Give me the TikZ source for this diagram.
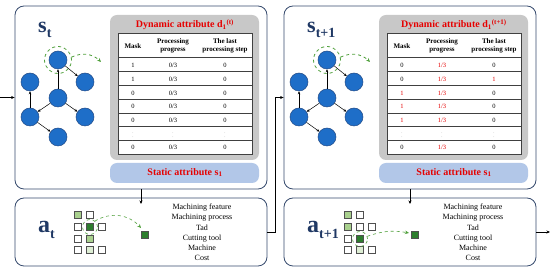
\documentclass[tikz,border=0pt]{standalone}
\usepackage{fontspec}
\setmainfont{Liberation Serif}
\usetikzlibrary{arrows.meta}
\definecolor{boxline}{RGB}{55,75,110}
\definecolor{nodeblue}{RGB}{30,110,200}
\definecolor{nodeedge}{RGB}{35,75,135}
\definecolor{navytext}{RGB}{31,56,100}
\definecolor{attrred}{RGB}{230,0,0}
\definecolor{graybg}{RGB}{200,200,200}
\definecolor{staticbg}{RGB}{178,199,232}
\definecolor{greendash}{RGB}{80,160,60}
\definecolor{darkgreen}{RGB}{45,125,45}
\definecolor{lightgreen}{RGB}{169,209,142}
\definecolor{palegreen}{RGB}{222,238,212}
\definecolor{sqedge}{RGB}{80,80,80}
\tikzset{
  frame/.style={draw=boxline, line width=0.8pt, rounded corners=9pt, fill=white, inner sep=0},
  gbox/.style={fill=graybg, rounded corners=7pt, inner sep=0},
  sbox/.style={fill=staticbg, rounded corners=7pt, inner sep=0},
  gnode/.style={circle, fill=nodeblue, draw=nodeedge, line width=0.5pt, minimum size=18pt, inner sep=0},
  gedge/.style={-{Stealth[length=3pt,width=2.6pt]}, line width=0.5pt},
  conn/.style={-{Stealth[length=3.5pt,width=3pt]}, line width=0.6pt},
  ring/.style={circle, draw=greendash, dashed, line width=0.8pt, inner sep=0},
  garrow/.style={-{Stealth[length=4pt,width=3.5pt]}, draw=greendash, dashed, line width=0.8pt},
  sq/.style={draw=sqedge, line width=0.6pt, minimum size=7pt, inner sep=0, fill=white},
  tline/.style={line width=0.6pt, draw=black!75},
  hd/.style={font=\fontsize{7}{7.8}\selectfont\bfseries, align=center, inner sep=0},
  cell/.style={font=\fontsize{6.5}{7}\selectfont, inner sep=0},
  ttl/.style={font=\fontsize{10}{12}\selectfont\bfseries, text=attrred, inner sep=0},
  biglab/.style={text=navytext, inner sep=0, anchor=base west},
  lst/.style={font=\fontsize{8}{10.2}\selectfont, align=center, inner sep=0},
}
\newcommand{\mygraph}[1]{%
  \node[gnode] (#1top) at (58,60) {};
  \node[gnode] (#1l) at (30,82) {};
  \node[gnode] (#1r) at (85,82) {};
  \node[gnode] (#1c) at (58,98) {};
  \node[gnode] (#1ll) at (30,117) {};
  \node[gnode] (#1lr) at (85,117) {};
  \node[gnode] (#1b) at (58,137) {};
  \draw[gedge] (#1c) -- (#1top);
  \draw[gedge] (#1top) -- (#1r);
  \draw[gedge] (#1c) -- (#1ll);
  \draw[gedge] (#1c) -- (#1lr);
  \draw[gedge] (#1ll) -- (#1l);
  \draw[gedge] (#1ll) -- (#1b);
  \node[ring, minimum size=27pt] (#1ring) at (#1top) {};
  \coordinate (#1tip) at (101,62);
  \draw[garrow] (#1ring.12) to[bend left=35] (#1tip);
}
\newcommand{\mytableframe}{%
  \draw[tline, fill=white] (118,33) rectangle (252,154);
  \draw[tline, line width=1pt] (118,58) -- (252,58);
  \foreach \k in {1,...,6} {\draw[tline] (118,58+\k*13.714) -- (252,58+\k*13.714);}
  \node[hd] at (133,46) {Mask};
  \node[hd] at (173,46) {Processing\\progress};
  \node[hd] at (225,46) {The last\\processing step};
}
\newcommand{\trow}[4]{%
  \node[cell] at (133,#1) {#2};
  \node[cell] at (173,#1) {#3};
  \node[cell] at (225,#1) {#4};
}
\newcommand{\dotsrow}{\textcolor{black!45}{\fontsize{4.5}{4.5}\selectfont$\vdots$}}
\newcommand{\R}[1]{\textcolor{attrred}{#1}}
\begin{document}
\begin{tikzpicture}[x=1pt, y=-1pt]
\useasboundingbox (0,0) rectangle (550,272);
% ---------------- left state ----------------
\node[frame, minimum width=252pt, minimum height=183pt] (S1) at (141,97.5) {};
\node[gbox, minimum width=149pt, minimum height=145pt] (G1) at (184.5,87.5) {};
\node[sbox, minimum width=149pt, minimum height=20pt] (T1) at (184.5,173) {};
\node[ttl] at (185,172.5) {Static attribute s\textsubscript{1}};
\node[ttl] (D1) at (185,24.5) {Dynamic attribute d\textsubscript{1}\textsuperscript{(t)}};
\mytableframe
\trow{65.5}{1}{0/3}{0}
\trow{79.2}{1}{0/3}{0}
\trow{92.9}{0}{0/3}{0}
\trow{106.6}{0}{0/3}{0}
\trow{120.3}{0}{0/3}{0}
\trow{134.0}{\dotsrow}{\dotsrow}{\dotsrow}
\trow{147.7}{0}{0/3}{0}
\mygraph{a}
\node[biglab] at (38,33) {\fontsize{22}{22}\selectfont\bfseries s\raisebox{-5pt}{\fontsize{14}{14}\selectfont t}};
% ---------------- right state ----------------
\begin{scope}[shift={(269,0)}]
\node[frame, minimum width=252pt, minimum height=183pt] (S2) at (141,97.5) {};
\node[gbox, minimum width=149pt, minimum height=145pt] (G2) at (184.5,87.5) {};
\node[sbox, minimum width=149pt, minimum height=20pt] (T2) at (184.5,173) {};
\node[ttl] at (185,172.5) {Static attribute s\textsubscript{1}};
\node[ttl] (D2) at (185,24.5) {Dynamic attribute d\textsubscript{1}\textsuperscript{(t+1)}};
\mytableframe
\trow{65.5}{0}{\R{1/3}}{0}
\trow{79.2}{0}{\R{1/3}}{\R{1}}
\trow{92.9}{\R{1}}{\R{1/3}}{0}
\trow{106.6}{\R{1}}{\R{1/3}}{0}
\trow{120.3}{\R{1}}{\R{1/3}}{0}
\trow{134.0}{\dotsrow}{\dotsrow}{\dotsrow}
\trow{147.7}{0}{\R{1/3}}{0}
\mygraph{b}
\node[biglab] at (38,33) {\fontsize{22}{22}\selectfont\bfseries s\raisebox{-5pt}{\fontsize{14}{14}\selectfont t+1}};
\end{scope}
% ---------------- left action ----------------
\node[frame, minimum width=252pt, minimum height=68pt] (A1) at (141,232) {};
\node[biglab] at (38,233) {\fontsize{24}{24}\selectfont\bfseries a\raisebox{-6pt}{\fontsize{14}{14}\selectfont t}};
\node[sq, fill=lightgreen] (a11) at (78,215) {};
\node[sq] (a12) at (90,215) {};
\node[sq] (a21) at (78,227) {};
\node[sq, fill=darkgreen] (a22) at (90,227) {};
\node[sq] (a23) at (102,227) {};
\node[sq] (a31) at (78,239) {};
\node[sq, fill=lightgreen] (a32) at (90,239) {};
\node[sq] (a41) at (78,250) {};
\node[sq, fill=palegreen] (a42) at (90,250) {};
\node[sq] (a43) at (102,250) {};
\node[ring, minimum size=15pt, line width=0.6pt] (aring) at (a22) {};
\node[sq, fill=darkgreen] (atgt) at (145,235) {};
\coordinate (atip) at (141,228);
\draw[garrow, line width=0.6pt] (aring.50) to[bend left=40] (atip);
\node[lst] (L1) at (202,232.5) {Machining feature\\Machining process\\Tad\\Cutting tool\\Machine\\Cost};
% ---------------- right action ----------------
\node[frame, minimum width=252pt, minimum height=68pt] (A2) at (410,232) {};
\node[biglab] at (307,233) {\fontsize{24}{24}\selectfont\bfseries a\raisebox{-6pt}{\fontsize{14}{14}\selectfont t+1}};
\node[sq, fill=lightgreen] (b11) at (348,215) {};
\node[sq] (b12) at (360,215) {};
\node[sq, fill=lightgreen] (b21) at (348,227) {};
\node[sq] (b22) at (360,227) {};
\node[sq] (b23) at (372,227) {};
\node[sq] (b31) at (348,239) {};
\node[sq, fill=darkgreen] (b32) at (360,239) {};
\node[sq] (b41) at (348,250) {};
\node[sq, fill=palegreen] (b42) at (360,250) {};
\node[sq] (b43) at (372,250) {};
\node[ring, minimum size=15pt, line width=0.6pt] (bring) at (b32) {};
\node[sq, fill=darkgreen] (btgt) at (415,235) {};
\coordinate (btip) at (409,233);
\draw[garrow, line width=0.6pt] (bring.20) to[bend left=15] (btip);
\node[lst] (L2) at (473,232.5) {Machining feature\\Machining process\\Tad\\Cutting tool\\Machine\\Cost};
% ---------------- connectors ----------------
\coordinate (in) at (0,97.5);
\draw[conn] (in) -- (S1.west);
\coordinate (d1) at (141,204);
\draw[conn] (S1.south) -- (d1);
\coordinate (d2) at (410,204);
\draw[conn] (S2.south) -- (d2);
\draw[conn] (A1.east) -- ++(8,0) |- (S2.west);
\coordinate (out) at (550,232);
\draw[conn] (A2.east) -- (out);
\end{tikzpicture}
\end{document}
